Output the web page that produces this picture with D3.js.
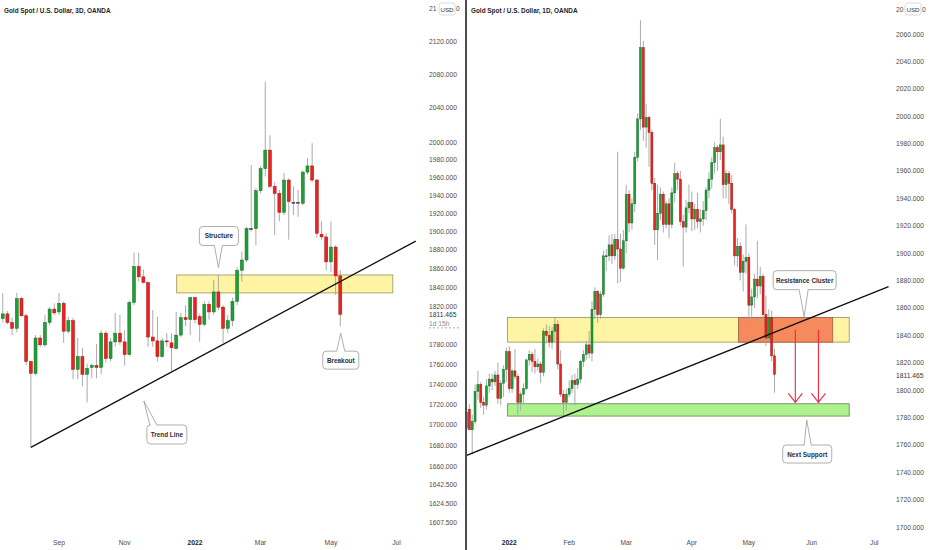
<!DOCTYPE html>
<html><head><meta charset="utf-8">
<script src="https://cdn.jsdelivr.net/npm/d3@7"></script>
<style>
html,body{margin:0;padding:0;background:#fff;}
svg{display:block;font-family:"Liberation Sans",Arial,sans-serif;}
</style></head><body>
<svg id="chart" width="932" height="550"></svg>
<script>
// ---------- LEFT PANEL: Gold 3D candles (bar index 0..72) ----------
const leftOpen  = [1807,1812,1803,1797,1828,1810,1763,1751,1787,1780,1803,1817,1814,1823,1794,1805,1755,1768,1750,1757,1759,1757,1792,1766,1783,1792,1783,1770,1824,1862,1851,1845,1788,1784,1768,1784,1782,1776,1790,1808,1806,1829,1809,1801,1822,1814,1835,1819,1797,1805,1825,1858,1869,1903,1903,1945,1970,1991,1950,1942,1921,1957,1932,1932,1931,1966,1973,1957,1897,1894,1867,1883,1852];
const leftHigh  = [1834,1815,1808,1834,1830,1812,1764,1790,1790,1811,1819,1823,1834,1825,1809,1808,1787,1777,1761,1761,1781,1795,1794,1787,1813,1811,1795,1826,1877,1877,1859,1846,1816,1809,1787,1792,1792,1814,1813,1821,1830,1830,1812,1825,1825,1848,1853,1821,1811,1829,1861,1878,1905,1974,1948,1973,2071,2008,1955,1946,1965,1959,1950,1946,1968,1982,1999,1958,1911,1898,1911,1885,1858];
const leftLow   = [1803,1801,1790,1793,1809,1759,1678,1749,1778,1778,1800,1811,1811,1782,1792,1745,1745,1738,1722,1746,1746,1750,1762,1763,1778,1780,1759,1769,1821,1846,1844,1778,1778,1763,1767,1778,1753,1776,1788,1799,1790,1802,1783,1799,1806,1811,1816,1782,1792,1799,1821,1846,1867,1900,1885,1942,1961,1948,1896,1911,1918,1891,1918,1916,1929,1963,1955,1893,1891,1858,1856,1832,1799];
const leftClose = [1812,1803,1797,1828,1810,1763,1751,1787,1780,1803,1817,1813,1823,1794,1805,1755,1768,1750,1756,1759,1757,1792,1766,1783,1792,1783,1770,1824,1862,1851,1845,1788,1784,1768,1784,1783,1777,1790,1808,1806,1829,1806,1801,1822,1814,1835,1819,1797,1805,1825,1858,1869,1903,1903,1945,1970,1991,1950,1942,1921,1957,1933,1932,1932,1966,1973,1957,1898,1894,1867,1883,1852,1811.465];
const leftMonthLabels = ["Sep","Nov","2022","Mar","May","Jul"];
const leftMonthBars   = [12,26,41,55,70,84];
const leftPriceTicks  = [2120,2080,2040,2000,1980,1960,1940,1920,1900,1880,1860,1840,1820,1780,1760,1740,1720,1700,1680,1660,1642.5,1624.5,1607.5];
const leftTopTick = 2160;   // partly hidden by the currency badge
const leftZone  = {bar0:37.1, bar1:83.2, lo:1834, hi:1853};
const leftTrend = [{bar:6, price:1678},{bar:88.1, price:1889.5}];

// ---------- RIGHT PANEL: Gold 1D candles (13 Dec 2021 .. 13 May 2022) ----------
const rightOpen  = [1772,1786,1771,1777,1799,1804,1791,1789,1803,1808,1806,1811,1794,1805,1815,
 1828,1801,1814,1810,1791,1797,1801,1822,1826,1821,1817,1819,1813,1843,1840,1835,1843,1848,1819,1797,1791,
 1797,1801,1807,1804,1808,1821,1826,1833,1827,1859,1872,1855,1870,1898,1898,1906,1898,1910,1903,1889,
 1909,1943,1922,1936,1970,1998,2050,1992,1999,1988,1951,1917,1929,1943,1921,1936,1921,1944,1958,1954,1923,1919,1933,
 1937,1925,1932,1923,1925,1931,1946,1954,1966,1977,1974,1979,1950,1958,1951,1932,1898,1905,1886,1894,
 1897,1862,1868,1881,1876,1883,1855,1838,1853,1825];
const rightHigh  = [1790,1790,1782,1804,1814,1806,1795,1808,1812,1812,1814,1820,1807,1818,1831,
 1832,1815,1830,1812,1799,1805,1823,1829,1828,1830,1823,1821,1845,1848,1847,1846,1853,1851,1829,1800,1801,
 1807,1811,1812,1816,1822,1829,1836,1843,1865,1875,1873,1872,1902,1903,1913,1914,1914,1974,1914,1917,
 1950,1946,1940,1974,2002,2070,2055,2009,2000,1990,1955,1950,1948,1945,1938,1940,1948,1966,1960,1960,1928,1939,1950,
 1945,1936,1944,1932,1938,1948,1959,1970,1981,1979,1998,1985,1961,1960,1957,1933,1911,1908,1899,1921,
 1900,1874,1885,1909,1890,1885,1869,1859,1858,1830];
const rightLow   = [1768,1772,1753,1775,1793,1787,1782,1786,1798,1800,1803,1790,1789,1795,1806,
 1798,1798,1808,1782,1785,1790,1800,1818,1813,1812,1814,1805,1810,1834,1831,1830,1835,1815,1795,1780,1785,
 1795,1798,1789,1801,1805,1817,1822,1823,1821,1852,1849,1852,1868,1887,1894,1892,1895,1878,1879,1888,
 1900,1915,1917,1930,1967,1990,1982,1977,1963,1946,1906,1895,1924,1915,1918,1911,1918,1937,1946,1920,1890,1915,1929,
 1916,1917,1918,1915,1920,1924,1940,1947,1958,1960,1968,1940,1940,1936,1929,1891,1890,1880,1872,1885,
 1850,1850,1860,1867,1870,1850,1832,1835,1821,1798];
const rightClose = [1784,1771,1777,1799,1804,1791,1789,1803,1808,1806,1811,1794,1805,1815,1828,
 1801,1814,1810,1791,1797,1801,1822,1826,1821,1817,1819,1813,1843,1840,1835,1843,1848,1819,1797,1791,1797,
 1801,1807,1804,1808,1821,1826,1833,1827,1859,1872,1855,1870,1898,1898,1906,1898,1910,1903,1889,1909,
 1943,1922,1936,1970,1998,2050,1992,1999,1988,1951,1917,1929,1943,1921,1936,1921,1944,1958,1954,1923,1919,1933,1937,
 1925,1932,1923,1925,1931,1946,1954,1966,1977,1974,1979,1950,1958,1951,1932,1898,1905,1886,1894,1897,
 1862,1868,1881,1876,1883,1855,1838,1853,1825,1811.465];
const rightMonthLabels = ["2022","Feb","Mar","Apr","May","Jun","Jul"];
const rightMonthBars   = [15,36,56,79,99,121,143];
const rightPriceTicks  = [2060,2040,2020,2000,1980,1960,1940,1920,1900,1880,1860,1840,1820,1800,1780,1760,1740,1720,1700];
const rightTopTick = 2080;  // partly hidden by the currency badge
const rightZoneYellow = {bar0:14.4, bar1:134.2, lo:1835, hi:1853};
const rightZoneOrange = {bar0:95.4, bar1:128.4, lo:1835, hi:1853};
const rightZoneGreen  = {bar0:14.4, bar1:134.2, lo:1781, hi:1790};
const rightTrend  = [{bar:0, price:1752.3},{bar:148, price:1875.5}];
const rightArrows = [{bar:115.3, from:1844, to:1791},{bar:123.4, from:1844, to:1791}];
const lastPrice = 1811.465;

// ---------- drawing ----------
const svg = d3.select("#chart");
const GREEN = "#1e9e34", GREEN_S = "#13702a", RED = "#ea2320", RED_S = "#a3120f", WICK = "#a2a2a2";
const AXIS_FONT = 6.7, AXIS_COL = "#4c4c4c";
const fmt = d3.format(".3f");

const Lx = d3.scaleLinear().domain([-0.58, 89]).range([0, 420]);
const Ly = d3.scaleLog().domain([1607.5, 2120]).range([522, 41]);
const Rx = d3.scaleLinear().domain([0.175, 148.5]).range([467, 890]);
const Ry = d3.scaleLinear().domain([1700, 2060]).range([527, 34]);

const defs = svg.append("defs");
defs.append("clipPath").attr("id","clipL").append("rect").attr("x",0).attr("y",0).attr("width",421).attr("height",530);
defs.append("clipPath").attr("id","clipR").append("rect").attr("x",467).attr("y",0).attr("width",423).attr("height",530);

function zone(g, xs, ys, z, fill, stroke){
  g.append("rect").attr("x", xs(z.bar0)).attr("y", ys(z.hi))
    .attr("width", xs(z.bar1)-xs(z.bar0)).attr("height", ys(z.lo)-ys(z.hi))
    .attr("fill", fill).attr("stroke", stroke).attr("stroke-width", 0.9);
}
function candles(g, xs, ys, O, H, L, C, bw){
  const idx = d3.range(O.length);
  g.append("g").selectAll("line").data(idx).join("line")
    .attr("x1", i=>xs(i)).attr("x2", i=>xs(i))
    .attr("y1", i=>ys(H[i])).attr("y2", i=>ys(L[i]))
    .attr("stroke", WICK).attr("stroke-width", 0.9);
  g.append("g").selectAll("rect").data(idx).join("rect")
    .attr("x", i=>xs(i)-bw/2).attr("width", bw)
    .attr("y", i=>ys(Math.max(O[i],C[i])))
    .attr("height", i=>Math.max(0.8, Math.abs(ys(O[i])-ys(C[i]))))
    .attr("fill", i=> C[i]>O[i] ? GREEN : (C[i]<O[i] ? RED : "#333"))
    .attr("stroke", i=> C[i]>O[i] ? GREEN_S : (C[i]<O[i] ? RED_S : "#333"))
    .attr("stroke-width", 0.5);
}
function trend(g, xs, ys, pts){
  g.append("path").attr("d", d3.line().x(d=>xs(d.bar)).y(d=>ys(d.price))(pts))
    .attr("stroke", "#111").attr("stroke-width", 1.3).attr("fill","none");
}
function callout(g, tipX, tipY, box, text){
  const {x,y,w,h,side,b0,b1} = box, r = 3.5;
  let d;
  if (side === "bottom"){
    d = `M${x+r},${y} H${x+w-r} Q${x+w},${y} ${x+w},${y+r} V${y+h-r} Q${x+w},${y+h} ${x+w-r},${y+h} H${b1} L${tipX},${tipY} L${b0},${y+h} H${x+r} Q${x},${y+h} ${x},${y+h-r} V${y+r} Q${x},${y} ${x+r},${y} Z`;
  } else {
    d = `M${x+r},${y} H${b0} L${tipX},${tipY} L${b1},${y} H${x+w-r} Q${x+w},${y} ${x+w},${y+r} V${y+h-r} Q${x+w},${y+h} ${x+w-r},${y+h} H${x+r} Q${x},${y+h} ${x},${y+h-r} V${y+r} Q${x},${y} ${x+r},${y} Z`;
  }
  g.append("path").attr("d", d).attr("fill","#fff").attr("stroke","#9a9a9a").attr("stroke-width",0.8);
  g.append("text").attr("x", x+w/2).attr("y", y+h/2).attr("text-anchor","middle")
    .attr("dominant-baseline","central").attr("font-size",6.4).attr("font-weight","bold")
    .attr("fill","#2a2e39").text(text);
}
// top price label partly covered by a "USD" badge: only the uncovered ends are drawn
function badgedTick(labelX, y, value, badgeX){
  const s = fmt(value);
  svg.append("text").attr("x",labelX).attr("y",y).attr("dominant-baseline","central")
    .attr("font-size",AXIS_FONT).attr("fill",AXIS_COL).text(s.slice(0,2));
  svg.append("text").attr("x",badgeX+17).attr("y",y).attr("dominant-baseline","central")
    .attr("font-size",AXIS_FONT).attr("fill",AXIS_COL).text(s.slice(-1));
  svg.append("rect").attr("x",badgeX).attr("y",3).attr("width",16).attr("height",12).attr("rx",2.5)
    .attr("fill","#fff").attr("stroke","#cfcfcf").attr("stroke-width",0.8);
  svg.append("text").attr("x",badgeX+8).attr("y",9).attr("text-anchor","middle").attr("dominant-baseline","central")
    .attr("font-size",6.2).attr("fill","#333").text("USD");
}

// ----- Left panel -----
const gL = svg.append("g").attr("clip-path","url(#clipL)");
zone(gL, Lx, Ly, leftZone, "#fff4a3", "#a39c6a");
candles(gL, Lx, Ly, leftOpen, leftHigh, leftLow, leftClose, 3);
trend(gL, Lx, Ly, leftTrend);

callout(svg, Lx(46), Ly(1861), {x:Lx(46)-19, y:Ly(1861)-41, w:39, h:19, side:"bottom", b0:Lx(46)-4, b1:Lx(46)+4}, "Structure");
callout(svg, Lx(72.1), Ly(1792), {x:Lx(72.1)-18, y:Ly(1792)+18, w:36, h:18, side:"top", b0:Lx(72.1)-4, b1:Lx(72.1)+4}, "Breakout");
callout(svg, Lx(30.1), Ly(1723.4), {x:Lx(30.1)+3, y:Ly(1723.4)+24, w:40, h:19, side:"top", b0:Lx(30.1)+6, b1:Lx(30.1)+13}, "Trend Line");

// left price axis
svg.append("g").selectAll("text").data(leftPriceTicks).join("text")
  .attr("x", 429).attr("y", d=>Ly(d)).attr("dominant-baseline","central")
  .attr("font-size", AXIS_FONT).attr("fill", AXIS_COL).text(d=>fmt(d));
svg.append("text").attr("x",429).attr("y",Ly(lastPrice)+0.5).attr("dominant-baseline","central")
  .attr("font-size",AXIS_FONT).attr("fill","#333").text(fmt(lastPrice));
svg.append("text").attr("x",429).attr("y",Ly(lastPrice)+9.5).attr("dominant-baseline","central")
  .attr("font-size",AXIS_FONT).attr("fill","#8a8a8a").text("1d 15h");
svg.append("line").attr("x1",429).attr("x2",459).attr("y1",Ly(lastPrice)+13.5).attr("y2",Ly(lastPrice)+13.5)
  .attr("stroke","#9a9a9a").attr("stroke-width",0.8).attr("stroke-dasharray","2,2");
badgedTick(429, Ly(leftTopTick), leftTopTick, 439);

// left time axis
svg.append("g").selectAll("text").data(leftMonthLabels).join("text")
  .attr("x", (d,i)=>Lx(leftMonthBars[i])).attr("y", 542.5).attr("text-anchor","middle")
  .attr("dominant-baseline","central").attr("font-size", AXIS_FONT)
  .attr("font-weight", d=>d==="2022"?"bold":"normal")
  .attr("fill", d=>d==="2022"?"#222":AXIS_COL).text(d=>d);

svg.append("text").attr("x",4).attr("y",10).attr("dominant-baseline","central")
  .attr("font-size",6.4).attr("font-weight","bold").attr("fill","#1b1e27")
  .text("Gold Spot / U.S. Dollar, 3D, OANDA");

// ----- divider -----
svg.append("rect").attr("x",465).attr("y",0).attr("width",2).attr("height",550).attr("fill","#4d4d4d");

// ----- Right panel -----
const gR = svg.append("g").attr("clip-path","url(#clipR)");
zone(gR, Rx, Ry, rightZoneYellow, "#fff4a3", "#a39c6a");
zone(gR, Rx, Ry, rightZoneGreen, "#aef28e", "#6f8f64");
zone(gR, Rx, Ry, rightZoneOrange, "#f68a5c", "#a0664c");
candles(gR, Rx, Ry, rightOpen, rightHigh, rightLow, rightClose, 2);
trend(gR, Rx, Ry, rightTrend);

rightArrows.forEach(a=>{
  const x = Rx(a.bar), y0 = Ry(a.from), y1 = Ry(a.to);
  gR.append("line").attr("x1",x).attr("x2",x).attr("y1",y0).attr("y2",y1)
    .attr("stroke","#f0283a").attr("stroke-width",1.1);
  gR.append("path").attr("d",`M${x-7},${y1-9} L${x},${y1} L${x+7},${y1-9}`)
    .attr("stroke","#f0283a").attr("stroke-width",1.1).attr("fill","none");
});

callout(svg, Rx(118.4), Ry(1853.6), {x:Rx(118.4)-31, y:Ry(1853.6)-46, w:63, h:19, side:"bottom", b0:Rx(118.4)-5, b1:Rx(118.4)+4}, "Resistance Cluster");
callout(svg, Rx(119.3), Ry(1778.1), {x:Rx(119.3)-24, y:Ry(1778.1)+25, w:49, h:18, side:"top", b0:Rx(119.3)-2.5, b1:Rx(119.3)+4.5}, "Next Support");

svg.append("g").selectAll("text").data(rightPriceTicks).join("text")
  .attr("x", 896).attr("y", d=>Ry(d)).attr("dominant-baseline","central")
  .attr("font-size", AXIS_FONT).attr("fill", AXIS_COL).text(d=>fmt(d));
svg.append("text").attr("x",896).attr("y",Ry(lastPrice)+1.5).attr("dominant-baseline","central")
  .attr("font-size",AXIS_FONT).attr("fill","#333").text(fmt(lastPrice));
badgedTick(896, 9, rightTopTick, 905);

svg.append("g").selectAll("text").data(rightMonthLabels).join("text")
  .attr("x", (d,i)=>Rx(rightMonthBars[i])).attr("y", 542.5).attr("text-anchor","middle")
  .attr("dominant-baseline","central").attr("font-size", AXIS_FONT)
  .attr("font-weight", d=>d==="2022"?"bold":"normal")
  .attr("fill", d=>d==="2022"?"#222":AXIS_COL).text(d=>d);

svg.append("text").attr("x",471).attr("y",10).attr("dominant-baseline","central")
  .attr("font-size",6.4).attr("font-weight","bold").attr("fill","#1b1e27")
  .text("Gold Spot / U.S. Dollar, 1D, OANDA");
</script>
</body></html>
